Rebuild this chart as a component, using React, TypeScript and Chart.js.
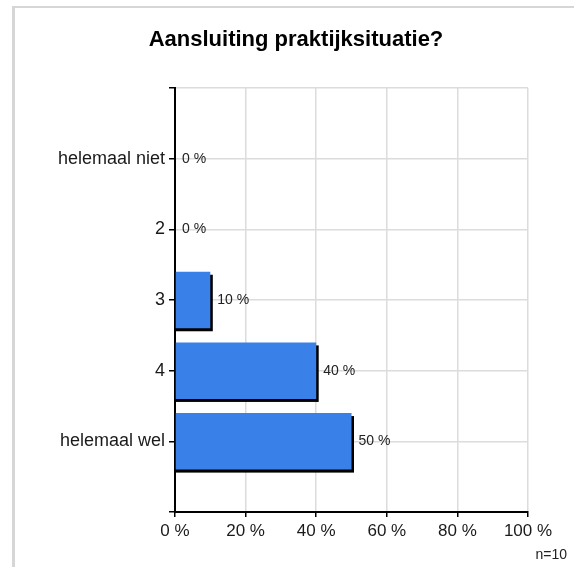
import React, { useEffect, useRef } from "react";
import { Chart, registerables } from "chart.js";

Chart.register(...registerables);

const title = "Aansluiting praktijksituatie?";
const categories = ["", "helemaal niet", "2", "3", "4", "helemaal wel", ""];
const percentages: (number | null)[] = [null, 0, 0, 10, 40, 50, null];
const footnote = "n=10";

const FONT = "'Liberation Sans', Arial, sans-serif";

export default function App() {
  const ref = useRef<HTMLCanvasElement | null>(null);

  useEffect(() => {
    const canvas = ref.current;
    if (!canvas) return;

    const shadowPlugin = {
      id: "barShadow",
      beforeDatasetsDraw(chart: any) {
        const ctx = chart.ctx;
        const meta = chart.getDatasetMeta(0);
        ctx.save();
        ctx.fillStyle = "#000";
        meta.data.forEach((el: any, i: number) => {
          const v = percentages[i];
          if (v == null || v <= 0) return;
          const h = el.height;
          ctx.fillRect(el.base, el.y - h / 2 + 3, el.x - el.base + 2.5, h);
        });
        ctx.restore();
      },
    };

    const textPlugin = {
      id: "texts",
      afterDraw(chart: any) {
        const ctx = chart.ctx;
        const meta = chart.getDatasetMeta(0);
        ctx.save();
        ctx.fillStyle = "#222";
        ctx.font = `14px ${FONT}`;
        ctx.textAlign = "left";
        ctx.textBaseline = "middle";
        meta.data.forEach((el: any, i: number) => {
          const v = percentages[i];
          if (v == null) return;
          const x = v > 0 ? el.x + 7 : chart.chartArea.left + 7;
          ctx.fillText(`${v} %`, x, el.y);
        });
        ctx.fillStyle = "#000";
        ctx.font = `bold 22px ${FONT}`;
        ctx.textAlign = "center";
        ctx.fillText(title, 296, 40);
        ctx.fillStyle = "#222";
        ctx.font = `14px ${FONT}`;
        ctx.textAlign = "right";
        ctx.fillText(footnote, 567, 555);
        ctx.restore();
      },
    };

    const chart = new Chart(canvas, {
      type: "bar",
      data: {
        labels: categories,
        datasets: [
          {
            data: percentages as any,
            backgroundColor: "#3a80e9",
            borderWidth: 0,
            barPercentage: 0.8,
            categoryPercentage: 1.0,
          },
        ],
      },
      options: {
        indexAxis: "y",
        animation: false,
        responsive: false,
        maintainAspectRatio: false,
        layout: { padding: { top: 88, right: 46, bottom: 0, left: 0 } },
        plugins: {
          legend: { display: false },
          tooltip: { enabled: false },
          title: { display: false },
        },
        scales: {
          x: {
            type: "linear",
            min: 0,
            max: 100,
            ticks: {
              stepSize: 20,
              callback: (v: any) => `${v} %`,
              font: { size: 17, family: FONT },
              color: "#1a1a1a",
              padding: 4,
              maxRotation: 0,
            },
            grid: { color: "#dcdcdc", lineWidth: 1.5, tickLength: 5, tickColor: "#000" },
            border: { color: "#000", width: 2 },
            afterFit: (scale: any) => {
              scale.height = 55;
            },
          },
          y: {
            type: "category",
            offset: false,
            ticks: {
              autoSkip: false,
              font: { size: 18, family: FONT },
              color: "#1a1a1a",
              padding: 4,
            },
            grid: { color: "#dcdcdc", lineWidth: 1.5, tickLength: 6, tickColor: "#000", offset: false },
            border: { color: "#000", width: 2 },
            afterFit: (scale: any) => {
              scale.width = 175;
            },
          },
        },
      },
      plugins: [shadowPlugin, textPlugin],
    });

    return () => chart.destroy();
  }, []);

  return (
    <div style={{ position: "absolute", left: 0, top: 0, width: 574, height: 567, background: "#fff" }}>
      <div
        style={{
          position: "absolute",
          left: 12,
          top: 6,
          width: 562,
          height: 561,
          borderTop: "2px solid #d6d6d6",
          borderLeft: "3px solid #d6d6d6",
          boxSizing: "border-box",
        }}
      />
      <canvas ref={ref} width={574} height={567} style={{ position: "absolute", left: 0, top: 0, width: 574, height: 567 }} />
    </div>
  );
}
